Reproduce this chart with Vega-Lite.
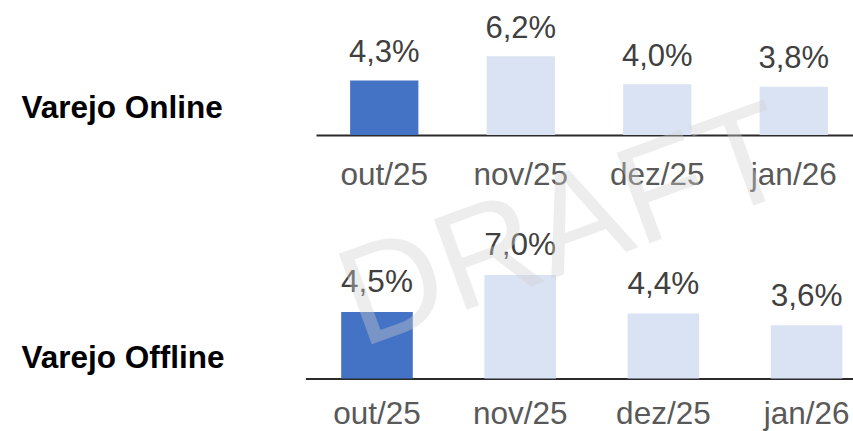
{
  "$schema": "https://vega.github.io/schema/vega-lite/v6.json",
  "width": 853,
  "height": 431,
  "autosize": {"type": "none"},
  "padding": 0,
  "background": "#ffffff",
  "config": {
    "font": "Liberation Sans",
    "view": {"stroke": null},
    "locale": {"number": {"decimal": ",", "thousands": ".", "grouping": [3], "currency": ["R$", ""]}}
  },
  "datasets": {
    "online": [
      {"mes": "out/25", "valor": 0.043},
      {"mes": "nov/25", "valor": 0.062},
      {"mes": "dez/25", "valor": 0.040},
      {"mes": "jan/26", "valor": 0.038}
    ],
    "offline": [
      {"mes": "out/25", "valor": 0.045},
      {"mes": "nov/25", "valor": 0.070},
      {"mes": "dez/25", "valor": 0.044},
      {"mes": "jan/26", "valor": 0.036}
    ],
    "marca": [
      {"texto": "DRAFT"}
    ]
  },
  "layer": [
    {
      "data": {"name": "online"},
      "encoding": {
        "x": {
          "field": "mes",
          "type": "nominal",
          "sort": ["out/25", "nov/25", "dez/25", "jan/26"],
          "scale": {"range": [316, 862], "paddingInner": 0.5, "paddingOuter": 0.25},
          "axis": {
            "orient": "bottom",
            "offset": -296,
            "title": "Varejo Online",
            "titleX": 21,
            "titleY": -17.7,
            "titleAlign": "left",
            "titleBaseline": "alphabetic",
            "titleFont": "Liberation Sans",
            "titleFontSize": 31.5,
            "titleFontWeight": "bold",
            "titleColor": "#000000",
            "labelFont": "Liberation Sans",
            "labelFontSize": 31.5,
            "labelColor": "#595959",
            "labelPadding": 24,
            "labelAngle": 0,
            "ticks": false,
            "tickSize": 0,
            "grid": false,
            "domainColor": "#2b2b2b",
            "domainWidth": 2
          }
        },
        "y": {
          "field": "valor",
          "type": "quantitative",
          "scale": {"domain": [0, 0.1], "range": [135, 8]},
          "axis": null
        }
      },
      "layer": [
        {
          "mark": {"type": "bar"},
          "encoding": {
            "color": {
              "field": "mes",
              "type": "nominal",
              "scale": {"domain": ["out/25", "nov/25", "dez/25", "jan/26"], "range": ["#4472C4", "#DAE3F3", "#DAE3F3", "#DAE3F3"]},
              "legend": null
            }
          }
        },
        {
          "mark": {"type": "text", "dy": -18.7, "baseline": "alphabetic", "align": "center", "font": "Liberation Sans", "fontSize": 31, "color": "#404040"},
          "encoding": {
            "text": {"field": "valor", "type": "quantitative", "format": ".1%"}
          }
        }
      ]
    },
    {
      "data": {"name": "offline"},
      "encoding": {
        "x": {
          "field": "mes",
          "type": "nominal",
          "sort": ["out/25", "nov/25", "dez/25", "jan/26"],
          "scale": {"range": [305.4, 878.2], "paddingInner": 0.5, "paddingOuter": 0.25},
          "axis": {
            "orient": "bottom",
            "offset": -52.5,
            "title": "Varejo Offline",
            "titleX": 21,
            "titleY": -11.2,
            "titleAlign": "left",
            "titleBaseline": "alphabetic",
            "titleFont": "Liberation Sans",
            "titleFontSize": 31.5,
            "titleFontWeight": "bold",
            "titleColor": "#000000",
            "labelFont": "Liberation Sans",
            "labelFontSize": 31.5,
            "labelColor": "#595959",
            "labelPadding": 20,
            "labelAngle": 0,
            "ticks": false,
            "tickSize": 0,
            "grid": false,
            "domainColor": "#2b2b2b",
            "domainWidth": 2
          }
        },
        "y": {
          "field": "valor",
          "type": "quantitative",
          "scale": {"domain": [0, 0.1], "range": [378.5, 230.5]},
          "axis": null
        }
      },
      "layer": [
        {
          "mark": {"type": "bar"},
          "encoding": {
            "color": {
              "field": "mes",
              "type": "nominal",
              "scale": {"domain": ["out/25", "nov/25", "dez/25", "jan/26"], "range": ["#4472C4", "#DAE3F3", "#DAE3F3", "#DAE3F3"]},
              "legend": null
            }
          }
        },
        {
          "mark": {"type": "text", "dy": -19.5, "baseline": "alphabetic", "align": "center", "font": "Liberation Sans", "fontSize": 31.5, "color": "#404040"},
          "encoding": {
            "text": {"field": "valor", "type": "quantitative", "format": ".1%"}
          }
        }
      ]
    },
    {
      "data": {"name": "marca"},
      "mark": {"type": "text", "angle": -20, "fontSize": 140, "font": "Liberation Sans", "fill": "#d0d0d0", "fillOpacity": 0.38, "align": "center", "baseline": "middle"},
      "encoding": {
        "x": {"datum": 0.6635, "type": "quantitative", "scale": {"domain": [0, 1]}, "axis": null},
        "y": {"datum": 0.4687, "type": "quantitative", "scale": {"domain": [0, 1]}, "axis": null},
        "text": {"field": "texto", "type": "nominal"}
      }
    }
  ],
  "resolve": {"scale": {"x": "independent", "y": "independent"}}
}
